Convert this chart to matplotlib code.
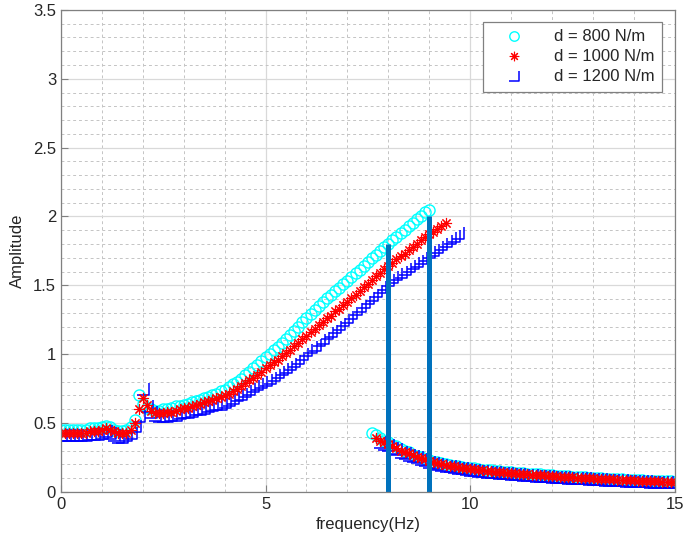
import numpy as np
import matplotlib
matplotlib.use('Agg')
import matplotlib.pyplot as plt
from matplotlib.path import Path
from matplotlib.ticker import MultipleLocator

plt.rcParams['font.family'] = ['Liberation Sans', 'DejaVu Sans']

# frequency sweeps (step 0.1 Hz)
f_up_800 = np.round(np.arange(0.0, 9.05, 0.1), 1)
f_up_1000 = np.round(np.arange(0.0, 9.45, 0.1), 1)
f_up_1200 = np.round(np.arange(0.0, 9.75, 0.1), 1)
f_lo_800 = np.round(np.arange(7.6, 15.05, 0.1), 1)
f_lo_1000 = np.round(np.arange(7.7, 15.05, 0.1), 1)
f_lo_1200 = np.round(np.arange(7.8, 15.05, 0.1), 1)

# upper branch amplitudes
a_up_800 = [0.45, 0.45, 0.45, 0.45, 0.45, 0.45, 0.45, 0.46, 0.46, 0.46,
            0.47, 0.48, 0.47, 0.45, 0.44, 0.44, 0.45, 0.47, 0.52, 0.70,
            0.64, 0.61, 0.60, 0.59, 0.59, 0.60, 0.60, 0.61, 0.62, 0.62,
            0.63, 0.64, 0.65, 0.66, 0.67, 0.68, 0.69, 0.70, 0.71, 0.73,
            0.74, 0.76, 0.78, 0.80, 0.82, 0.85, 0.87, 0.90, 0.92, 0.95,
            0.98, 1.00, 1.03, 1.05, 1.08, 1.11, 1.14, 1.17, 1.20, 1.23,
            1.26, 1.29, 1.32, 1.35, 1.38, 1.41, 1.43, 1.46, 1.48, 1.51,
            1.53, 1.56, 1.59, 1.61, 1.64, 1.67, 1.70, 1.72, 1.75, 1.78,
            1.80, 1.83, 1.85, 1.88, 1.90, 1.93, 1.95, 1.98, 2.00, 2.03,
            2.05]
a_up_1000 = [0.43, 0.43, 0.43, 0.43, 0.43, 0.43, 0.43, 0.44, 0.44, 0.44,
             0.45, 0.46, 0.45, 0.44, 0.43, 0.43, 0.43, 0.45, 0.50, 0.60,
             0.68, 0.63, 0.59, 0.57, 0.57, 0.57, 0.58, 0.58, 0.59, 0.60,
             0.61, 0.61, 0.62, 0.63, 0.64, 0.65, 0.66, 0.67, 0.68, 0.69,
             0.70, 0.71, 0.73, 0.75, 0.77, 0.79, 0.81, 0.83, 0.85, 0.87,
             0.90, 0.92, 0.94, 0.96, 0.99, 1.01, 1.03, 1.06, 1.08, 1.11,
             1.13, 1.16, 1.18, 1.21, 1.23, 1.26, 1.28, 1.31, 1.33, 1.36,
             1.38, 1.41, 1.43, 1.46, 1.49, 1.51, 1.54, 1.57, 1.59, 1.62,
             1.64, 1.66, 1.69, 1.71, 1.73, 1.76, 1.78, 1.80, 1.83, 1.85,
             1.87, 1.89, 1.91, 1.93, 1.95]
a_up_1200 = [0.41, 0.41, 0.41, 0.41, 0.41, 0.41, 0.41, 0.42, 0.42, 0.42,
             0.43, 0.44, 0.43, 0.41, 0.40, 0.40, 0.41, 0.43, 0.48, 0.55,
             0.75, 0.62, 0.58, 0.56, 0.55, 0.55, 0.55, 0.56, 0.56, 0.57,
             0.58, 0.58, 0.59, 0.60, 0.60, 0.61, 0.62, 0.63, 0.64, 0.64,
             0.65, 0.67, 0.68, 0.70, 0.71, 0.73, 0.75, 0.77, 0.78, 0.80,
             0.81, 0.83, 0.85, 0.87, 0.89, 0.91, 0.93, 0.95, 0.97, 1.00,
             1.03, 1.05, 1.07, 1.10, 1.12, 1.15, 1.17, 1.20, 1.22, 1.25,
             1.27, 1.30, 1.33, 1.35, 1.38, 1.41, 1.43, 1.46, 1.49, 1.51,
             1.54, 1.56, 1.58, 1.60, 1.62, 1.64, 1.66, 1.68, 1.70, 1.72,
             1.74, 1.76, 1.78, 1.80, 1.82, 1.84, 1.86, 1.88]

# lower branch amplitudes
a_lo_800 = [0.43, 0.41, 0.39, 0.37,
            0.36, 0.34, 0.33, 0.31, 0.30, 0.29, 0.27, 0.26, 0.25, 0.24,
            0.23, 0.22, 0.215, 0.21, 0.20, 0.195, 0.19, 0.185, 0.18, 0.175,
            0.175, 0.17, 0.165, 0.16, 0.158, 0.155, 0.152, 0.15, 0.147, 0.145,
            0.142, 0.14, 0.137, 0.135, 0.132, 0.13, 0.128, 0.126, 0.124, 0.122,
            0.12, 0.118, 0.116, 0.114, 0.112, 0.11, 0.108, 0.106, 0.105, 0.103,
            0.10, 0.099, 0.097, 0.096, 0.094, 0.093, 0.091, 0.09, 0.089, 0.087,
            0.086, 0.085, 0.083, 0.082, 0.081, 0.08, 0.079, 0.078, 0.077, 0.076,
            0.075]
a_lo_1000 = [0.39, 0.37, 0.36,
             0.35, 0.33, 0.32, 0.30, 0.29, 0.28, 0.265, 0.255, 0.245, 0.235,
             0.225, 0.215, 0.21, 0.20, 0.195, 0.19, 0.185, 0.18, 0.175, 0.17,
             0.168, 0.163, 0.159, 0.155, 0.152, 0.149, 0.146, 0.144, 0.141, 0.139,
             0.136, 0.134, 0.131, 0.129, 0.127, 0.125, 0.123, 0.121, 0.119, 0.117,
             0.115, 0.113, 0.111, 0.109, 0.107, 0.106, 0.104, 0.102, 0.101, 0.099,
             0.097, 0.096, 0.094, 0.093, 0.091, 0.09, 0.088, 0.087, 0.086, 0.084,
             0.083, 0.082, 0.08, 0.079, 0.078, 0.077, 0.076, 0.075, 0.074, 0.073,
             0.072]
a_lo_1200 = [0.36, 0.35,
             0.34, 0.32, 0.31, 0.29, 0.28, 0.27, 0.26, 0.25, 0.24, 0.23,
             0.22, 0.21, 0.205, 0.195, 0.19, 0.185, 0.18, 0.175, 0.17, 0.165,
             0.162, 0.158, 0.154, 0.15, 0.147, 0.144, 0.141, 0.139, 0.136, 0.134,
             0.131, 0.129, 0.127, 0.124, 0.122, 0.12, 0.118, 0.116, 0.114, 0.112,
             0.11, 0.108, 0.107, 0.105, 0.103, 0.101, 0.1, 0.098, 0.097, 0.095,
             0.093, 0.092, 0.09, 0.089, 0.087, 0.086, 0.085, 0.083, 0.082, 0.081,
             0.079, 0.078, 0.077, 0.076, 0.075, 0.074, 0.073, 0.072, 0.071, 0.07,
             0.069]

# vertical markers
bar_x = [8, 9]
bar_top = [1.8, 2.0]

labels = ['d = 800 N/m', 'd = 1000 N/m', 'd = 1200 N/m']

# bottom-right corner marker (open)
corner = Path([(-1, -1), (1, -1), (1, 1)], [Path.MOVETO, Path.LINETO, Path.LINETO])
star = (8, 2, 0)

fig = plt.figure(figsize=(6.85, 5.52), dpi=100)
ax = fig.add_axes([0.089, 0.109, 0.896, 0.873])

ax.plot(f_up_800, a_up_800, 'o', ls='none', mfc='none', mec='cyan', ms=8, mew=1.0, label=labels[0])
ax.plot(f_lo_800, a_lo_800, 'o', ls='none', mfc='none', mec='cyan', ms=8, mew=1.0)
ax.plot(f_up_1200, a_up_1200, marker=corner, ls='none', mfc='none', mec='#0000ff', ms=8.5, mew=1.1, label=labels[2])
ax.plot(f_lo_1200, a_lo_1200, marker=corner, ls='none', mfc='none', mec='#0000ff', ms=8.5, mew=1.1)
ax.plot(f_up_1000, a_up_1000, marker=star, ls='none', mec='red', ms=8, mew=0.8, label=labels[1])
ax.plot(f_lo_1000, a_lo_1000, marker=star, ls='none', mec='red', ms=8, mew=0.8)

for bx, bt in zip(bar_x, bar_top):
    ax.plot([bx, bx], [0, bt], color='#0072BD', lw=3.6, solid_capstyle='butt')

ax.set_xlim(0, 15)
ax.set_ylim(0, 3.5)
ax.xaxis.set_major_locator(MultipleLocator(5))
ax.xaxis.set_minor_locator(MultipleLocator(1))
ax.set_yticks(np.arange(0, 3.51, 0.5))
ax.set_yticklabels(['0', '0.5', '1', '1.5', '2', '2.5', '3', '3.5'])
ax.yaxis.set_minor_locator(MultipleLocator(0.1))

ax.grid(which='major', color='#d9d9d9', lw=0.9, ls='-')
ax.grid(which='minor', color='#c4c4c4', lw=0.7, ls=(0, (3, 3)))
ax.set_axisbelow(True)

ax.tick_params(which='both', direction='in', colors='#808080', labelcolor='#262626',
               labelsize=12, top=False, right=False)
ax.tick_params(which='major', length=5, width=0.8)
ax.tick_params(which='minor', length=0)
for s in ax.spines.values():
    s.set_color('#808080')
    s.set_linewidth(0.9)

ax.set_xlabel('frequency(Hz)', fontsize=12, color='#262626', labelpad=4)
ax.set_ylabel('Amplitude', fontsize=12, color='#262626', labelpad=6)

h, l = ax.get_legend_handles_labels()
order = [0, 2, 1]
leg = ax.legend([h[i] for i in order], [l[i] for i in order], loc='upper right',
                bbox_to_anchor=(0.98, 0.975), borderaxespad=0, fontsize=12,
                fancybox=False, framealpha=1, edgecolor='#808080',
                handlelength=2.8, handletextpad=1.0, borderpad=0.45, labelspacing=0.3,
                markerscale=0.85)
leg.get_frame().set_linewidth(0.9)
for t in leg.get_texts():
    t.set_color('#262626')

fig.savefig('out.png', dpi=100)
